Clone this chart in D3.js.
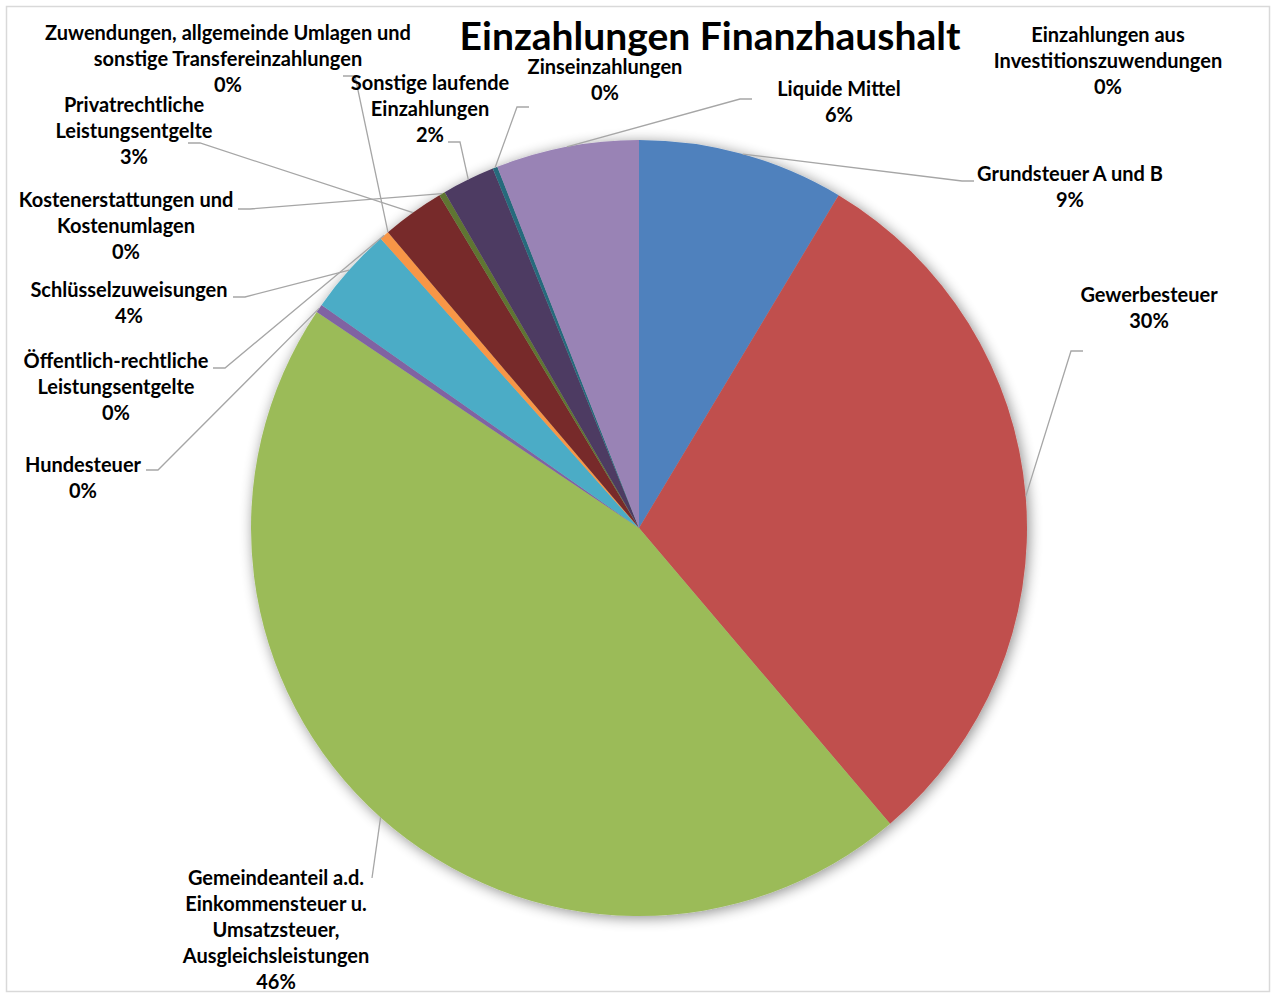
<!DOCTYPE html>
<html>
<head>
<meta charset="utf-8">
<script src="https://cdn.jsdelivr.net/npm/d3@7"></script>
<style>
  body { margin: 0; background: #fff; }
  text { font-family: Lato, "Open Sans", sans-serif; font-weight: bold; fill: #000; }
</style>
</head>
<body>
<div id="chart"></div>
<script>
// categories in drawing order, clockwise from 12 o'clock
var categories = [
	["Grundsteuer A und B"],
	["Gewerbesteuer"],
	["Gemeindeanteil a.d.", "Einkommensteuer u.", "Umsatzsteuer,", "Ausgleichsleistungen"],
	["Hundesteuer"],
	["Schlüsselzuweisungen"],
	["Öffentlich-rechtliche", "Leistungsentgelte"],
	["Zuwendungen, allgemeinde Umlagen und", "sonstige Transfereinzahlungen"],
	["Privatrechtliche", "Leistungsentgelte"],
	["Kostenerstattungen und", "Kostenumlagen"],
	["Sonstige laufende", "Einzahlungen"],
	["Zinseinzahlungen"],
	["Liquide Mittel"],
	["Einzahlungen aus", "Investitionszuwendungen"]
];

// share of total (%)
var values = [8.6, 30.2, 45.6, 0.35, 3.65, 0.4, 0, 2.6, 0.25, 2.2, 0.2, 5.95, 0];

var colors = ["#4f81bd", "#c0504d", "#9bbb59", "#8064a2", "#4bacc6", "#f79646",
	"#2c4d75", "#772c2a", "#5f7530", "#4d3b62", "#276a7c", "#9983b5", "#729aca"];

// label placement: centre x, first line y, leader elbow (ex, ey), tick direction
var labelLayout = [
	{x: 1070, y: 174, ex: 962, ey: 181, dir: 1},
	{x: 1149, y: 295, ex: 1071, ey: 351, dir: 1},
	{x: 276, y: 878, ex: 372, ey: 878, dir: 0},
	{x: 83, y: 465, ex: 158, ey: 470, dir: -1},
	{x: 129, y: 290, ex: 245, ey: 297, dir: -1},
	{x: 116, y: 361, ex: 225, ey: 368, dir: -1},
	{x: 228, y: 33, ex: 355, ey: 76, dir: -1},
	{x: 134, y: 105, ex: 200, ey: 143, dir: -1},
	{x: 126, y: 200, ex: 250, ey: 209, dir: -1},
	{x: 430, y: 83, ex: 460, ey: 142, dir: -1},
	{x: 605, y: 67, ex: 517, ey: 107, dir: 1},
	{x: 839, y: 89, ex: 740, ey: 99, dir: 1},
	{x: 1108, y: 35, ex: null, ey: null, dir: 0}
];

var width = 1272, height = 993,
	cx = 639, cy = 528, radius = 388,
	lineH = 26;

var svg = d3.select("#chart").append("svg")
	.attr("width", width)
	.attr("height", height);

var defs = svg.append("defs");
var shadow = defs.append("filter")
	.attr("id", "shadow")
	.attr("x", "-20%").attr("y", "-20%")
	.attr("width", "140%").attr("height", "140%");
shadow.append("feGaussianBlur").attr("in", "SourceAlpha").attr("stdDeviation", 7).attr("result", "blur");
shadow.append("feOffset").attr("dx", 2).attr("dy", 2).attr("result", "off");
shadow.append("feComponentTransfer").append("feFuncA").attr("type", "linear").attr("slope", 0.45);
var merge = shadow.append("feMerge");
merge.append("feMergeNode");
merge.append("feMergeNode").attr("in", "SourceGraphic");

// chart border
svg.append("rect")
	.attr("x", 6.5).attr("y", 6.5)
	.attr("width", 1263).attr("height", 985)
	.attr("fill", "#fff")
	.attr("stroke", "#d9d9d9")
	.attr("stroke-width", 1.5);

svg.append("text")
	.attr("x", 710)
	.attr("y", 50)
	.attr("text-anchor", "middle")
	.style("font-size", "39px")
	.text("Einzahlungen Finanzhaushalt");

var data = values.map(function(v, i) {
	return {name: categories[i], value: v, color: colors[i], layout: labelLayout[i]};
});
var total = d3.sum(values);

var pie = d3.pie()
	.sort(null)
	.value(function(d) { return d.value; });

var arc = d3.arc()
	.innerRadius(0)
	.outerRadius(radius);

var arcs = pie(data);

var g = svg.append("g")
	.attr("transform", "translate(" + cx + "," + cy + ")");

g.append("g")
	.attr("filter", "url(#shadow)")
	.selectAll("path")
	.data(arcs)
	.enter().append("path")
	.attr("d", arc)
	.attr("fill", function(d) { return d.data.color; });

// leader lines
svg.append("g")
	.selectAll("polyline")
	.data(arcs.filter(function(d) { return d.data.layout.ex !== null; }))
	.enter().append("polyline")
	.attr("fill", "none")
	.attr("stroke", "#a6a6a6")
	.attr("stroke-width", 1.3)
	.attr("points", function(d) {
		var mid = (d.startAngle + d.endAngle) / 2,
			L = d.data.layout,
			px = cx + radius * Math.sin(mid),
			py = cy - radius * Math.cos(mid);
		var pts = [[px, py], [L.ex, L.ey]];
		if (L.dir !== 0) pts.push([L.ex + L.dir * 12, L.ey]);
		return pts.map(function(p) { return p.join(","); }).join(" ");
	});

// labels
var labels = svg.append("g")
	.selectAll("text")
	.data(arcs)
	.enter().append("text")
	.attr("text-anchor", "middle")
	.style("font-size", "20px");

labels.each(function(d) {
	var t = d3.select(this),
		L = d.data.layout,
		lines = d.data.name.concat([Math.round(d.data.value / total * 100) + "%"]);
	lines.forEach(function(s, i) {
		t.append("tspan")
			.attr("x", L.x)
			.attr("y", L.y + i * lineH + 7)
			.text(s);
	});
});
</script>
</body>
</html>
